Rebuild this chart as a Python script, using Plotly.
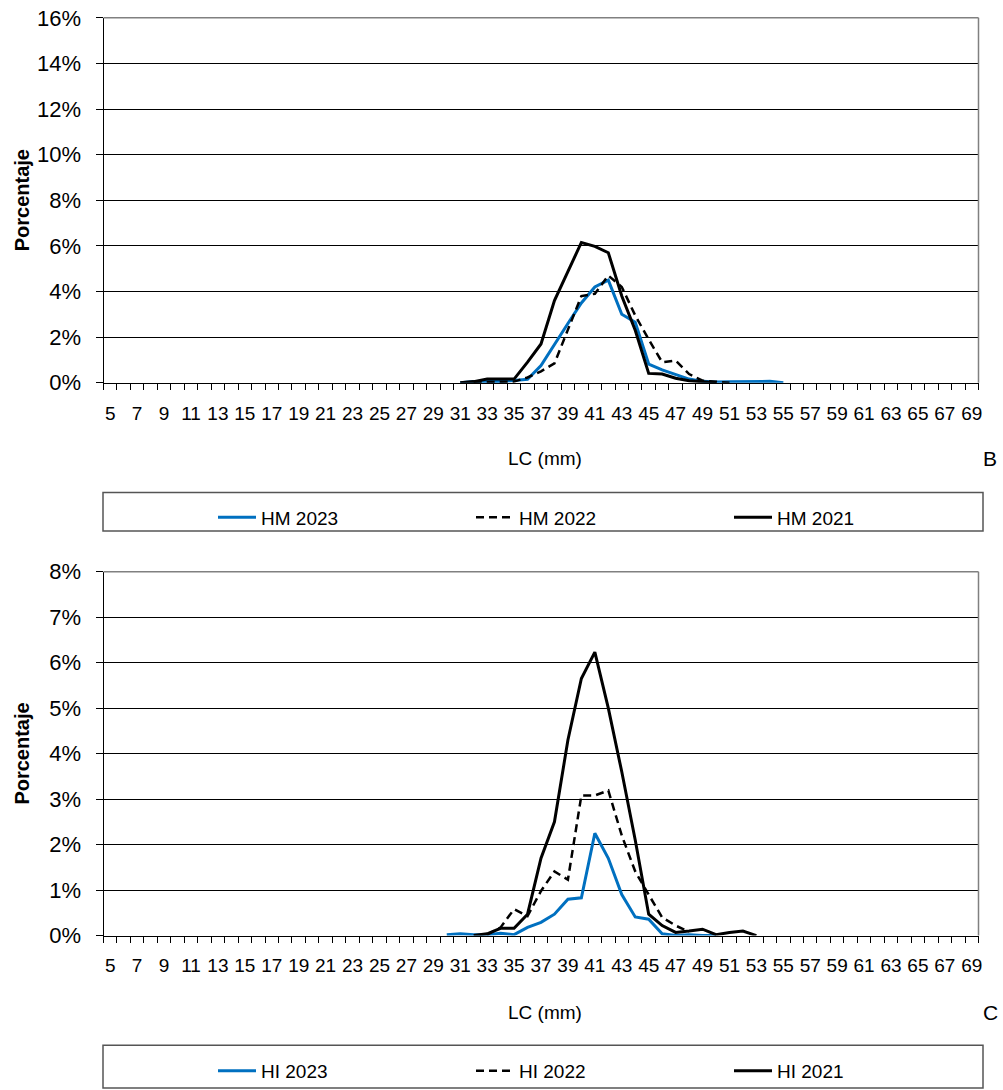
import plotly.graph_objects as go

W, H = 1003, 1090


def fx(px):
    return px / W


def fy(py):
    return 1 - py / H


# ---------------- data (percent) ----------------
# Panel B
hm_2023_lc = list(range(31, 56))
hm_2023 = [0.0, 0.05, 0.05, 0.05, 0.1, 0.15, 0.75, 1.7, 2.6, 3.5, 4.2, 4.5, 3.0,
           2.65, 0.82, 0.56, 0.35, 0.16, 0.06, 0.03, 0.04, 0.05, 0.04, 0.06, 0.0]

hm_2022_lc = list(range(32, 52))
hm_2022 = [0.02, 0.04, 0.04, 0.05, 0.23, 0.5, 0.85, 2.3, 3.8, 3.9, 4.7, 4.2,
           2.95, 1.9, 0.9, 0.97, 0.38, 0.09, 0.03, 0.0]

hm_2021_lc = list(range(31, 51))
hm_2021 = [0.0, 0.05, 0.16, 0.16, 0.16, 0.9, 1.7, 3.6, 4.9, 6.15, 5.98, 5.7,
           3.8, 2.3, 0.41, 0.38, 0.2, 0.09, 0.04, 0.0]

# Panel C
hi_2023_lc = list(range(30, 51))
hi_2023 = [0.02, 0.04, 0.02, 0.02, 0.05, 0.02, 0.18, 0.29, 0.47, 0.8, 0.83,
           2.25, 1.7, 0.9, 0.41, 0.36, 0.04, 0.0, 0.02, 0.0, 0.0]

hi_2022_lc = list(range(33, 49))
hi_2022 = [0.02, 0.18, 0.58, 0.43, 0.98, 1.41, 1.23, 3.08, 3.08, 3.19, 2.2,
           1.41, 0.9, 0.4, 0.22, 0.08]

hi_2021_lc = list(range(32, 54))
hi_2021 = [0.0, 0.04, 0.16, 0.16, 0.47, 1.7, 2.5, 4.3, 5.65, 6.23, 5.0, 3.6,
           2.1, 0.47, 0.22, 0.07, 0.1, 0.14, 0.02, 0.07, 0.1, 0.0]

BLUE = "#0070C0"
FONT = "Liberation Sans, Arial, sans-serif"

fig = go.Figure()

series_b = [
    ("HM 2023", hm_2023_lc, hm_2023, dict(color=BLUE, width=3)),
    ("HM 2022", hm_2022_lc, hm_2022, dict(color="black", width=2.5, dash="8px,5px")),
    ("HM 2021", hm_2021_lc, hm_2021, dict(color="black", width=3)),
]
series_c = [
    ("HI 2023", hi_2023_lc, hi_2023, dict(color=BLUE, width=3)),
    ("HI 2022", hi_2022_lc, hi_2022, dict(color="black", width=2.5, dash="8px,5px")),
    ("HI 2021", hi_2021_lc, hi_2021, dict(color="black", width=3)),
]

for name, xs, ys, ln in series_b:
    fig.add_trace(go.Scatter(x=xs, y=ys, name=name, mode="lines", line=ln,
                             xaxis="x", yaxis="y", legend="legend"))
for name, xs, ys, ln in series_c:
    fig.add_trace(go.Scatter(x=xs, y=ys, name=name, mode="lines", line=ln,
                             xaxis="x2", yaxis="y2", legend="legend2"))

x_left, x_right = 103.5, 978.5
top_b, bot_b = 18, 387
top_c, bot_c = 578, 946


def xaxis_cfg(anchor):
    return dict(
        domain=[fx(x_left), fx(x_right)], range=[4.5, 69.5], anchor=anchor,
        tickmode="linear", tick0=5, dtick=2, ticks="", tickangle=0,
        showgrid=False, zeroline=False, showline=True, linecolor="black",
        linewidth=1, automargin=False, ticklabelstandoff=13,
        tickfont=dict(family=FONT, size=19, color="black"),
        minor=dict(tick0=4.5, dtick=1, ticks="outside", ticklen=6,
                   tickcolor="black", tickwidth=1, showgrid=False),
    )


def yaxis_cfg(anchor, dom, top, step):
    return dict(
        domain=dom, range=[0, top], anchor=anchor, tickmode="linear", tick0=0,
        dtick=step, ticksuffix="%", ticks="outside", ticklen=7,
        tickcolor="black", showgrid=True, gridcolor="black", gridwidth=1,
        zeroline=False, showline=True, linecolor="black", linewidth=1,
        automargin=False, tickfont=dict(family=FONT, size=22, color="black"),
        ticklabelstandoff=10,
    )


legend_common = dict(
    orientation="h", xanchor="left", yanchor="top", entrywidth=205,
    entrywidthmode="pixels", bgcolor="rgba(0,0,0,0)", borderwidth=0,
    itemwidth=38, font=dict(family=FONT, size=19, color="black"),
    traceorder="normal",
)

fig.update_layout(
    width=W, height=H, margin=dict(l=0, r=0, t=0, b=0),
    paper_bgcolor="white", plot_bgcolor="white",
    font=dict(family=FONT, size=18, color="black"),
    showlegend=True,
    xaxis=xaxis_cfg("y"),
    yaxis=yaxis_cfg("x", [fy(bot_b), fy(top_b)], 16, 2),
    xaxis2=xaxis_cfg("y2"),
    yaxis2=yaxis_cfg("x2", [fy(bot_c), fy(top_c)], 8, 1),
    legend=dict(legend_common, x=fx(213), y=fy(504)),
    legend2=dict(legend_common, x=fx(213), y=fy(1064)),
)

shapes = []
for top, bot in [(top_b, bot_b), (top_c, bot_c)]:
    shapes.append(dict(type="line", xref="paper", yref="paper",
                       x0=fx(x_left), x1=fx(x_right), y0=fy(top), y1=fy(top),
                       line=dict(color="#808080", width=1.5)))
    shapes.append(dict(type="line", xref="paper", yref="paper",
                       x0=fx(x_right), x1=fx(x_right), y0=fy(top), y1=fy(bot),
                       line=dict(color="#808080", width=1.5)))
# legend boxes
shapes.append(dict(type="rect", xref="paper", yref="paper",
                   x0=fx(103), x1=fx(983), y0=fy(498), y1=fy(537),
                   line=dict(color="#555555", width=1.5)))
shapes.append(dict(type="rect", xref="paper", yref="paper",
                   x0=fx(103), x1=fx(983), y0=fy(1057), y1=fy(1100),
                   line=dict(color="#555555", width=1.5)))
fig.update_layout(shapes=shapes)

ann = []
for yc, letter, ymid in [(464, "B", (top_b + bot_b) / 2), (1024, "C", (top_c + bot_c) / 2)]:
    ann.append(dict(text="LC (mm)", x=fx(545), y=fy(yc), xref="paper", yref="paper",
                    showarrow=False, xanchor="center", yanchor="middle",
                    font=dict(family=FONT, size=19, color="black")))
    ann.append(dict(text=letter, x=fx(990), y=fy(yc), xref="paper", yref="paper",
                    showarrow=False, xanchor="center", yanchor="middle",
                    font=dict(family=FONT, size=21, color="black")))
    ann.append(dict(text="<b>Porcentaje</b>", x=fx(22), y=fy(ymid), xref="paper",
                    yref="paper", showarrow=False, textangle=-90,
                    xanchor="center", yanchor="middle",
                    font=dict(family=FONT, size=20, color="black")))
fig.update_layout(annotations=ann)

fig.write_html("out.html")
